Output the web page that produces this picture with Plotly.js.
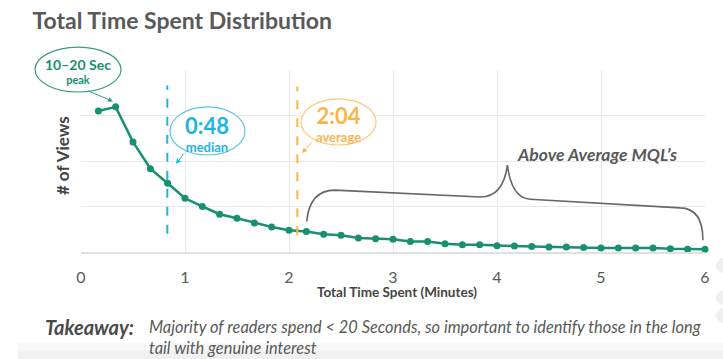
<!DOCTYPE html>
<html>
<head>
<meta charset="utf-8">
<script src="https://cdn.plot.ly/plotly-3.0.1.min.js"></script>
<style>
html,body{margin:0;padding:0;background:#fff;}
#chart{width:723px;height:359px;}
</style>
</head>
<body>
<div id="chart"></div>
<script>
// Time spent (minutes), one point every 10 seconds
var minutes = [0.167,0.333,0.5,0.667,0.833,1.0,1.167,1.333,1.5,1.667,1.833,2.0,
  2.167,2.333,2.5,2.667,2.833,3.0,3.167,3.333,3.5,3.667,3.833,4.0,
  4.167,4.333,4.5,4.667,4.833,5.0,5.167,5.333,5.5,5.667,5.833,6.0];
var views = [3.10,3.19,2.42,1.83,1.51,1.18,1.00,0.83,0.74,0.64,0.55,0.48,
  0.45,0.39,0.37,0.31,0.29,0.28,0.23,0.23,0.18,0.16,0.16,0.14,
  0.13,0.12,0.11,0.11,0.10,0.09,0.09,0.09,0.09,0.07,0.06,0.06];
var xTicks = [0,1,2,3,4,5,6];
var xTickLabels = ['0','1','2','3','4','5','6'];
var medianMin = 0.83;   // 0:48
var averageMin = 2.08;  // 2:04
var dashTop = 3.66, dashBottom = 0.40;

var green = '#17906f', cyan = '#1cb4e3', orange = '#f8b54c', grey = '#595959';
var font = 'Lato, "Open Sans", sans-serif';

var trace = {
  x: minutes, y: views, type: 'scatter', mode: 'lines+markers',
  line: {color: green, width: 2.5},
  marker: {color: green, size: 7},
  hoverinfo: 'x+y', cliponaxis: false
};

function txt(text, x, y, size, color, opts) {
  var a = {text: text, x: x, y: y, xref: 'paper', yref: 'paper', showarrow: false,
    xanchor: 'center', yanchor: 'middle', font: {family: font, size: size, color: color}};
  if (opts) for (var k in opts) a[k] = opts[k];
  return a;
}
function callout(big, small, bigSize, smallSize, x, y, lineSize, color) {
  return txt('<b><span style="font-size:' + bigSize + 'px">' + big + '</span></b><br>' +
    '<b><span style="font-size:' + smallSize + 'px">' + small + '</span></b>', x, y, lineSize, color,
    {font: {family: font, size: lineSize, color: color, weight: 'bold'}});
}
function arrow(x, y, ax, ay, color) {
  return {x: x, y: y, xref: 'x', yref: 'y', ax: ax, ay: ay, text: '', showarrow: true,
    arrowhead: 2, arrowsize: 1, arrowwidth: 1, arrowcolor: color, standoff: 0};
}
function ellipse(x0, x1, y0, y1, color) {
  return {type: 'circle', xref: 'paper', yref: 'paper', x0: x0, x1: x1, y0: y0, y1: y1,
    line: {color: color, width: 1.2}, fillcolor: 'rgba(255,255,255,1)', layer: 'above'};
}

var layout = {
  width: 723, height: 359,
  margin: {l: 81, r: 18, t: 70, b: 107},
  paper_bgcolor: '#fff', plot_bgcolor: '#fff',
  showlegend: false,
  title: {text: '<b>Total Time Spent Distribution</b>', xref: 'container', yref: 'container',
    x: 0.045, xanchor: 'left', y: 0.941, yanchor: 'middle',
    font: {family: font, size: 23, color: grey}},
  xaxis: {range: [0, 6], tickvals: xTicks, ticktext: xTickLabels,
    showgrid: true, gridcolor: '#e8e8e8', gridwidth: 1, zeroline: false,
    showline: true, linecolor: '#e0e0e0', linewidth: 1.5,
    ticks: 'outside', ticklen: 10, tickcolor: 'rgba(0,0,0,0)',
    tickfont: {family: font, size: 16, color: grey}, fixedrange: true},
  yaxis: {range: [0, 4], dtick: 1, showgrid: true, gridcolor: '#e8e8e8', gridwidth: 1,
    zeroline: false, showticklabels: false, showline: false, fixedrange: true},
  shapes: [
    {type: 'line', xref: 'x', yref: 'y', x0: medianMin, x1: medianMin, y0: dashBottom, y1: dashTop,
      line: {color: cyan, width: 2, dash: 'dash'}},
    {type: 'line', xref: 'x', yref: 'y', x0: averageMin, x1: averageMin, y0: dashBottom - 0.03, y1: dashTop - 0.02,
      line: {color: orange, width: 2, dash: 'dash'}},
    {type: 'path', xref: 'x', yref: 'y',
      path: 'M2.17,0.67 Q2.2,1.36 2.44,1.36 L3.84,1.21 Q4.06,1.21 4.10,1.91 Q4.14,1.18 4.32,1.16 L5.76,0.97 Q5.98,0.96 5.98,0.26',
      line: {color: '#666', width: 1.6}},
    ellipse(-0.0737, 0.0641, 0.879, 1.126, '#3a9d80'),
    ellipse(0.1426, 0.2628, 0.533, 0.797, '#5cc6ea'),
    ellipse(0.3526, 0.4728, 0.588, 0.841, '#fcc77a'),
    {type: 'rect', xref: 'paper', yref: 'paper', x0: -0.101, x1: 1.03, y0: -0.59, y1: -0.50,
      fillcolor: 'rgba(225,225,225,0.25)', line: {width: 0}, layer: 'below'},
    {type: 'rect', xref: 'paper', yref: 'paper', x0: -0.101, x1: 1.03, y0: -0.59, y1: -0.545,
      fillcolor: 'rgba(225,225,225,0.35)', line: {width: 0}, layer: 'below'},
    {type: 'circle', xref: 'paper', yref: 'paper', x0: 1.0176, x1: 1.045, y0: -0.115, y1: -0.033,
      fillcolor: '#efefef', line: {width: 0}},
    {type: 'circle', xref: 'paper', yref: 'paper', x0: 1.0176, x1: 1.045, y0: -0.291, y1: -0.209,
      fillcolor: '#efefef', line: {width: 0}},
    {type: 'circle', xref: 'paper', yref: 'paper', x0: 1.0176, x1: 1.045, y0: -0.390, y1: -0.308,
      fillcolor: '#efefef', line: {width: 0}}
  ],
  annotations: [
    arrow(0.308, 3.31, -26, -11, '#3a9d80'),
    arrow(0.913, 1.934, 9, -12, cyan),
    arrow(2.125, 2.176, 11, -12, orange),
    callout('10–20 Sec', 'peak', 14, 11, -0.0048, 0.995, 10.8, green),
    callout('0:48', 'median', 22, 13, 0.2019, 0.652, 13.6, cyan),
    callout('2:04', 'average', 22, 13, 0.4119, 0.706, 13.6, orange),
    txt('<b><i>Above Average MQL’s</i></b>', 0.827, 0.533, 17.5, grey),
    txt('<b># of Views</b>', -0.0304, 0.527, 17, '#444', {textangle: -90}),
    txt('<b>Total Time Spent (Minutes)</b>', 0.506, -0.2198, 13.5, '#444'),
    txt('<b><i>Takeaway:</i></b>', -0.0609, -0.412, 20, '#4a4a4a', {xanchor: 'left'}),
    txt('<i>Majority of readers spend &lt; 20 Seconds, so important to identify those in the long</i>', 0.1058, -0.412, 16.4, grey, {xanchor: 'left'}),
    txt('<i>tail with genuine interest</i>', 0.1058, -0.522, 16.4, grey, {xanchor: 'left'})
  ]
};

Plotly.newPlot('chart', [trace], layout, {displayModeBar: false, staticPlot: true});
</script>
</body>
</html>
